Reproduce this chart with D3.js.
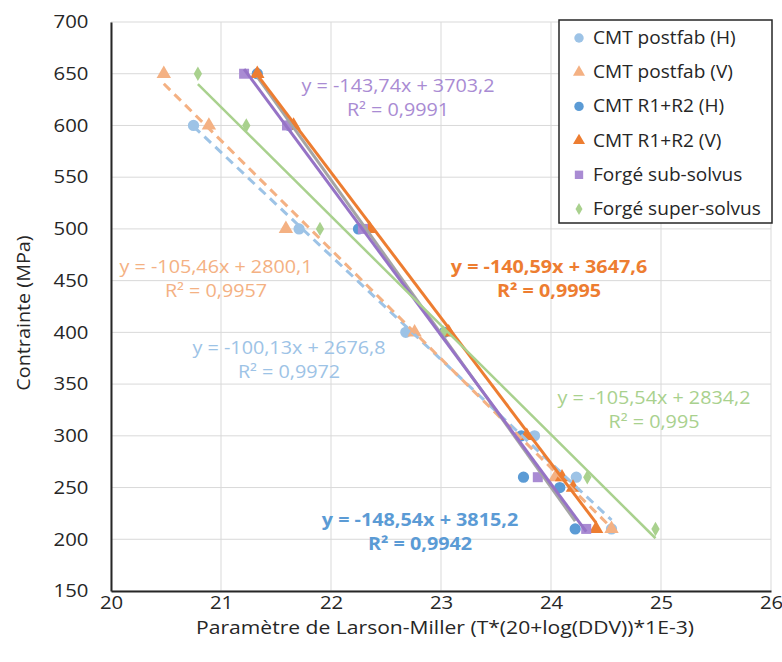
<!DOCTYPE html>
<html>
<head>
<meta charset="utf-8">
<script src="https://cdn.jsdelivr.net/npm/d3@7"></script>
<style>
  html, body { margin: 0; padding: 0; background: #fff; }
  svg { display: block; }
  text { font-family: "Open Sans", "Noto Sans", sans-serif; }
</style>
</head>
<body>
<svg id="chart" width="782" height="662"></svg>
<script>
// ---------- data ----------
const seriesNames = ["CMT postfab (H)", "CMT postfab (V)", "CMT R1+R2 (H)", "CMT R1+R2 (V)", "Forgé sub-solvus", "Forgé super-solvus"];
const postfabH_x = [20.75, 21.71, 22.68, 23.85, 24.23, 24.55];
const postfabH_y = [600, 500, 400, 300, 260, 210];
const postfabV_x = [20.48, 20.89, 21.59, 22.76, 24.04, 24.55];
const postfabV_y = [650, 600, 500, 400, 260, 210];
const r12H_x = [21.33, 21.62, 22.25, 23.03, 23.73, 23.75, 24.08, 24.22];
const r12H_y = [650, 600, 500, 400, 300, 260, 250, 210];
const r12V_x = [21.33, 21.66, 22.35, 23.07, 23.78, 24.10, 24.20, 24.41];
const r12V_y = [650, 600, 500, 400, 300, 260, 250, 210];
const subX = [21.21, 21.60, 22.29, 23.88, 24.32];
const subY = [650, 600, 500, 260, 210];
const superX = [20.79, 21.23, 21.90, 23.02, 24.33, 24.95];
const superY = [650, 600, 500, 400, 260, 210];
// trendline coefficients (y = a x + b) and R²
const trendSlopes = [-100.13, -105.46, -148.54, -140.59, -143.74, -105.54];
const trendIntercepts = [2676.8, 2800.1, 3815.2, 3647.6, 3703.2, 2834.2];
const trendR2 = ["0,9972", "0,9957", "0,9942", "0,9995", "0,9991", "0,995"];
const xTicks = [20, 21, 22, 23, 24, 25, 26];
const yTicks = [150, 200, 250, 300, 350, 400, 450, 500, 550, 600, 650, 700];

// ---------- styles ----------
const markerColors = ["#9DC3E6", "#F4B183", "#5B9BD5", "#ED7D31", "#A98BD3", "#A9D18E"];
const markerShapes = [d3.symbolCircle, d3.symbolTriangle, d3.symbolCircle, d3.symbolTriangle, d3.symbolSquare, d3.symbolDiamond];
const markerSizes = [100, 90, 100, 90, 100, 60];
const lineColors = ["#9DC3E6", "#F4B183", "#A5A5A5", "#ED7D31", "#9673C6", "#A9D18E"];
const lineDash = ["9,6", "9,6", null, null, null, null];
const lineWidths = [3, 3, 3, 3, 3, 2.5];
const labelColors = ["#9DC3E6", "#F4B183", "#5B9BD5", "#ED7D31", "#A98BD3", "#A9D18E"];
const labelBold = [false, false, true, true, false, false];
const labelPos = [[289, 348], [216, 267], [420, 520], [549, 267], [398, 86], [654, 398]];
const SX = 1.13; // horizontal text stretch

const series = [
  {x: postfabH_x, y: postfabH_y},
  {x: postfabV_x, y: postfabV_y},
  {x: r12H_x, y: r12H_y},
  {x: r12V_x, y: r12V_y},
  {x: subX, y: subY},
  {x: superX, y: superY}
];

const svg = d3.select("#chart");
const L = 111, R = 771, T = 22, B = 591;
const x = d3.scaleLinear().domain([20, 26]).range([L, R]);
const y = d3.scaleLinear().domain([150, 700]).range([B, T]);

// gridlines
svg.append("g").selectAll("line").data(xTicks).join("line")
  .attr("x1", d => x(d)).attr("x2", d => x(d)).attr("y1", T).attr("y2", B)
  .attr("stroke", "#D9D9D9").attr("stroke-width", 1);
svg.append("g").selectAll("line").data(yTicks).join("line")
  .attr("x1", L).attr("x2", R).attr("y1", d => y(d)).attr("y2", d => y(d))
  .attr("stroke", "#D9D9D9").attr("stroke-width", 1);

// axes
const xAxis = svg.append("g").attr("transform", `translate(0,${B})`)
  .call(d3.axisBottom(x).tickValues(xTicks).tickSize(0).tickPadding(5).tickFormat(d3.format("d")));
const yAxis = svg.append("g").attr("transform", `translate(${L},0)`)
  .call(d3.axisLeft(y).tickValues(yTicks).tickSize(0).tickPadding(20).tickFormat(d3.format("d")));
[xAxis, yAxis].forEach(a => {
  a.select(".domain").attr("stroke", "#262626").attr("stroke-width", 2);
  a.selectAll("text").attr("fill", "#262626").style("font-size", "18px")
    .style("font-family", "Open Sans").attr("transform", `scale(${SX},1)`);
});

// axis titles
svg.append("text").attr("transform", `translate(445,634) scale(1.14,1)`).attr("text-anchor", "middle")
  .attr("fill", "#262626").style("font-size", "18.5px")
  .text("Paramètre de Larson-Miller (T*(20+log(DDV))*1E-3)");
svg.append("text").attr("transform", "translate(30,313) rotate(-90) scale(1.1,1)").attr("text-anchor", "middle")
  .attr("fill", "#262626").style("font-size", "18px")
  .text("Contrainte (MPa)");

// markers
series.forEach((s, i) => {
  const pts = s.x.map((v, k) => [v, s.y[k]]);
  svg.append("g").selectAll("path").data(pts).join("path")
    .attr("d", d3.symbol().type(markerShapes[i]).size(markerSizes[i]))
    .attr("transform", d => `translate(${x(d[0])},${y(d[1])})`)
    .attr("fill", markerColors[i]);
});

// trendlines
series.forEach((s, i) => {
  const ext = d3.extent(s.x);
  const f = v => trendSlopes[i] * v + trendIntercepts[i];
  svg.append("line")
    .attr("x1", x(ext[0])).attr("y1", y(f(ext[0])))
    .attr("x2", x(ext[1])).attr("y2", y(f(ext[1])))
    .attr("stroke", lineColors[i]).attr("stroke-width", lineWidths[i])
    .attr("stroke-dasharray", lineDash[i]);
});

// trend labels
const fmt = v => String(v).replace(".", ",");
series.forEach((s, i) => {
  const sign = trendIntercepts[i] >= 0 ? "+" : "-";
  const lines = [`y = ${fmt(trendSlopes[i])}x ${sign} ${fmt(Math.abs(trendIntercepts[i]))}`, `R² = ${trendR2[i]}`];
  lines.forEach((t, k) => {
    svg.append("text").attr("text-anchor", "middle")
      .attr("transform", `translate(${labelPos[i][0]},${labelPos[i][1] + 6 + k * 24}) scale(${SX},1)`)
      .attr("fill", labelColors[i]).style("font-size", "17.5px")
      .style("font-weight", labelBold[i] ? "bold" : "normal")
      .text(t);
  });
});

// legend
const lg = svg.append("g");
lg.append("rect").attr("x", 559).attr("y", 20).attr("width", 213).attr("height", 203)
  .attr("fill", "#fff").attr("stroke", "#262626").attr("stroke-width", 1.5);
seriesNames.forEach((n, i) => {
  const cy = 38 + i * 34.2;
  lg.append("path").attr("d", d3.symbol().type(markerShapes[i]).size(markerSizes[i] * 0.7))
    .attr("transform", `translate(579,${cy})`).attr("fill", markerColors[i]);
  lg.append("text").attr("transform", `translate(593,${cy + 6}) scale(1.09,1)`).attr("fill", "#262626")
    .style("font-size", "17.5px").text(n);
});
</script>
</body>
</html>
